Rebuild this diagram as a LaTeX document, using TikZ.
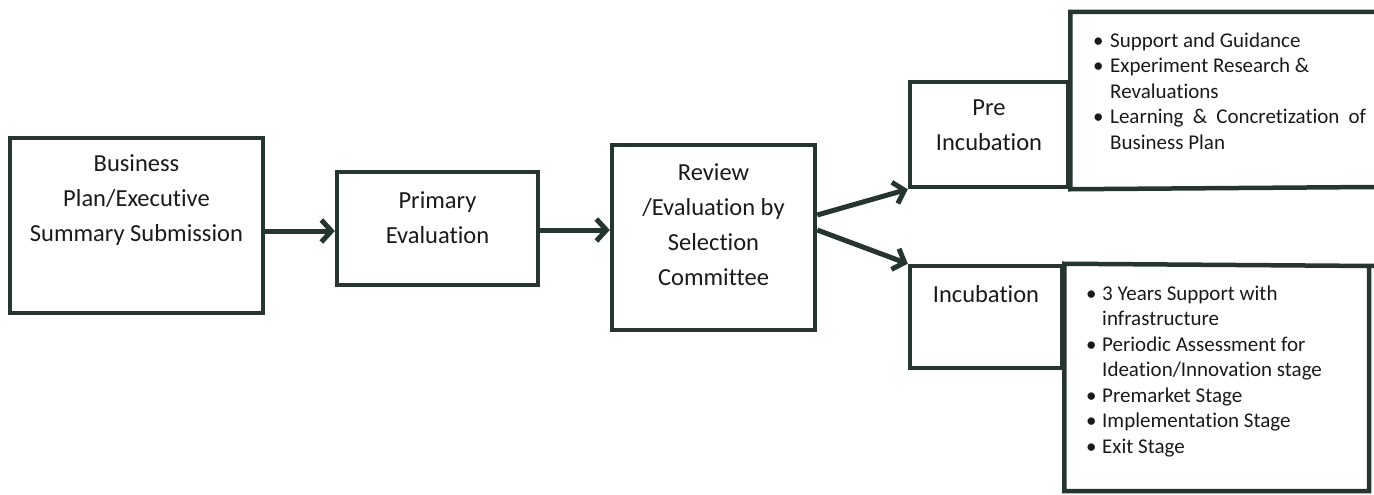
\documentclass[tikz,border=0pt]{standalone}
\usepackage{fontspec}
\setmainfont{Carlito}[Ligatures=NoCommon]
\usetikzlibrary{arrows.meta}
\definecolor{ink}{HTML}{26352F}
\definecolor{txt}{HTML}{1A1A1A}

\begin{document}
\begin{tikzpicture}[x=1pt,y=-1pt,
  box/.style={draw=ink, line width=4.5pt, rectangle, inner sep=0pt},
  frame/.style={draw=ink, line width=4.5pt, line join=miter},
  boxtext/.style={text=txt, align=center, inner sep=0pt, anchor=north,
    font=\fontsize{24.5}{35}\selectfont},
  arr/.style={draw=ink, line width=5pt,
    -{Straight Barb[length=10pt,width=22pt,line join=miter]}},
  bullist/.style={text=txt, inner sep=0pt, anchor=north west,
    font=\fontsize{21}{25.5}\selectfont}]
\useasboundingbox (0,0) rectangle (1374,495);

% main stages
\node[box, minimum width=253pt, minimum height=175pt] (b1) at (136.5,225.5) {};
\node[box, minimum width=201pt, minimum height=113pt] (b2) at (437.5,228.5) {};
\node[box, minimum width=203pt, minimum height=185pt] (b3) at (713.5,237.5) {};
\node[box, minimum width=158pt, minimum height=105pt] (pre) at (989,134.5) {};
\node[box, minimum width=152pt, minimum height=102pt] (inc) at (986,317) {};

\node[boxtext] (t1) at (136.5,154) {Business\\Plan/Executive\\Summary Submission};
\node[boxtext] (t2) at (437.5,191) {Primary\\Evaluation};
\node[boxtext] (t3) at (713.5,163) {Review\\/Evaluation by\\Selection\\Committee};
\node[boxtext] (t4) at (989,100) {Pre\\Incubation};
\node[boxtext] (t5) at (986,285) {Incubation};

% detail panels beside the two tracks
\coordinate (pretop) at (1374,12);
\coordinate (preend) at (1374,187);
\draw[frame] (pretop) -| (pre.north east) -- (pre.south east) -- (preend);
\coordinate (incne) at (1374,266);
\coordinate (incse) at (1369,491);
\draw[frame] (incne) -- (inc.north east) |- (incse) -- (incse |- incne);

\node[bullist] (l1) at (1093,29) {%
  \begin{tabular}{@{}l@{}l@{}}
  \makebox[17pt][l]{\textbullet} & Support and Guidance\\
  \makebox[17pt][l]{\textbullet} & Experiment Research \&\\
   & Revaluations\\
  \makebox[17pt][l]{\textbullet} & \makebox[256pt][s]{Learning \& Concretization of}\\
   & Business Plan
  \end{tabular}};

\node[bullist] (l2) at (1086,282) {%
  \begin{tabular}{@{}l@{}l@{}}
  \makebox[16pt][l]{\textbullet} & 3 Years Support with\\
   & infrastructure\\
  \makebox[16pt][l]{\textbullet} & Periodic Assessment for\\
   & Ideation/Innovation stage\\
  \makebox[16pt][l]{\textbullet} & Premarket Stage\\
  \makebox[16pt][l]{\textbullet} & Implementation Stage\\
  \makebox[16pt][l]{\textbullet} & Exit Stage
  \end{tabular}};

% connectors
\coordinate (r1) at (0,231);
\coordinate (r2) at (0,230);
\coordinate (s1) at (0,215);
\coordinate (s2) at (0,230);
\draw[arr] (r1 -| b1.east) -- (r1 -| b2.west);
\draw[arr] (r2 -| b2.east) -- (r2 -| b3.west);
\draw[arr] (s1 -| b3.east) -- (pre.south west);
\draw[arr] (s2 -| b3.east) -- (inc.north west);
\end{tikzpicture}
\end{document}
